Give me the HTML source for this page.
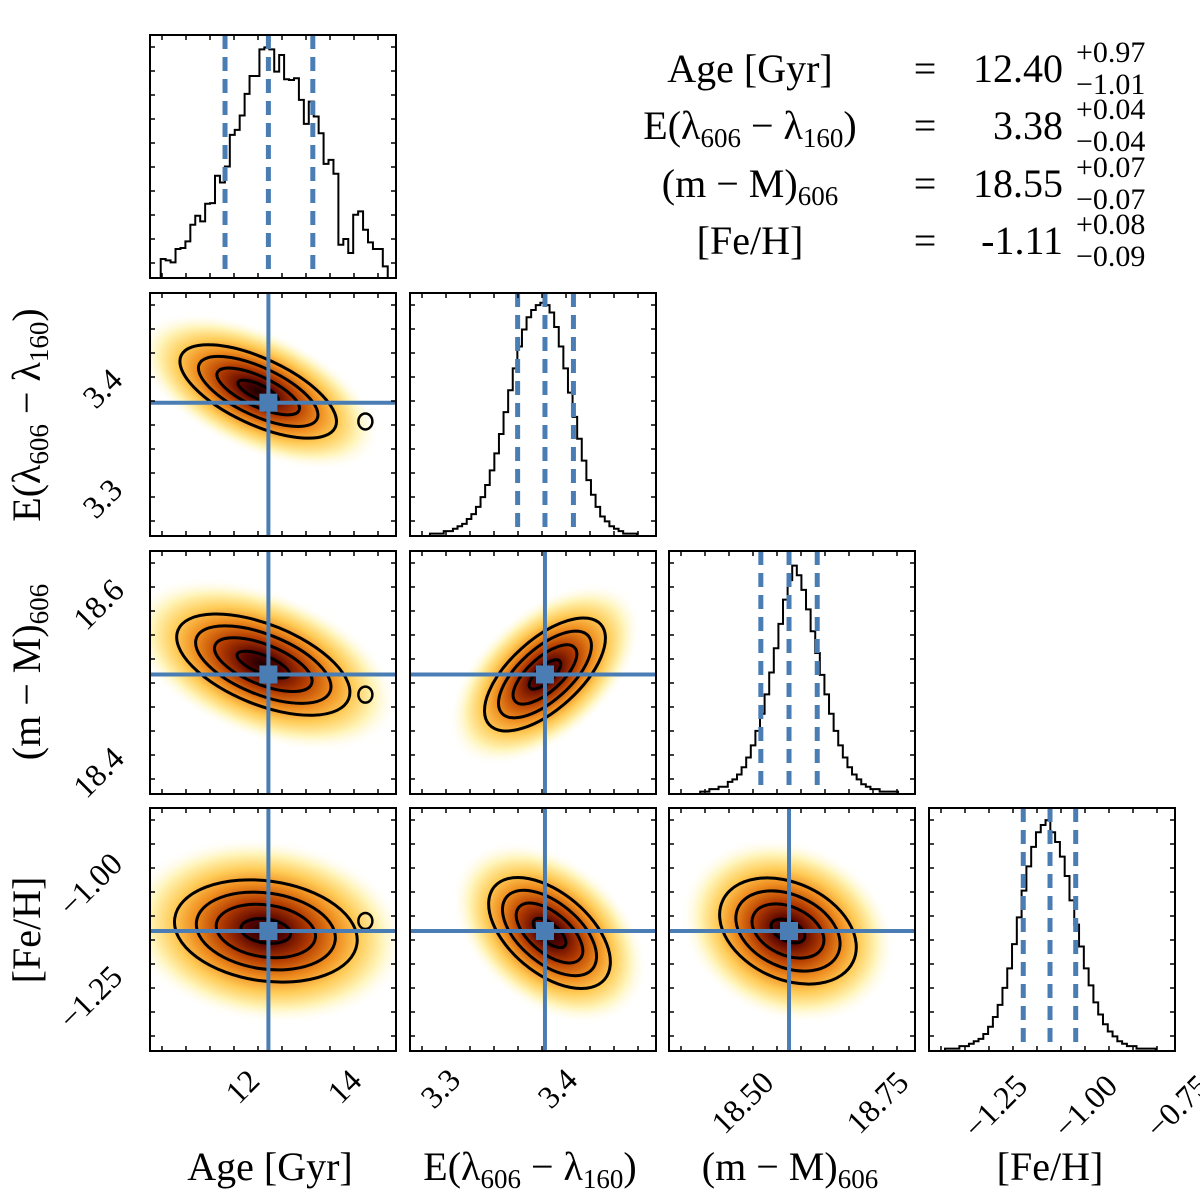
<!DOCTYPE html>
<html><head><meta charset="utf-8"><style>
html,body{margin:0;padding:0;background:#fff;}
svg{display:block;font-family:"Liberation Serif",serif;}
</style></head><body>
<svg id="chart" width="1200" height="1200" viewBox="0 0 1200 1200" xmlns="http://www.w3.org/2000/svg">
<defs>
<radialGradient id="heat" cx="50%" cy="50%" r="50%">
<stop offset="0" stop-color="#1a0000"/>
<stop offset="0.14" stop-color="#5a0500"/>
<stop offset="0.32" stop-color="#b43c00"/>
<stop offset="0.5" stop-color="#ee8c1e"/>
<stop offset="0.66" stop-color="#ffcc58"/>
<stop offset="0.82" stop-color="#fff4b8"/>
<stop offset="1" stop-color="#ffffff" stop-opacity="0"/>
</radialGradient>
</defs>
<g id="panels"></g>
<g id="summary" font-size="40" fill="#000">
<text x="750" y="82" text-anchor="middle">Age [Gyr]</text>
<text x="750" y="139" text-anchor="middle">E(λ<tspan font-size="27" dy="8">606</tspan><tspan dy="-8"> − λ</tspan><tspan font-size="27" dy="8">160</tspan><tspan dy="-8">)</tspan></text>
<text x="750" y="197" text-anchor="middle">(m − M)<tspan font-size="27" dy="8">606</tspan></text>
<text x="750" y="254" text-anchor="middle">[Fe/H]</text>
<text x="925" y="82" text-anchor="middle">=</text>
<text x="925" y="139" text-anchor="middle">=</text>
<text x="925" y="197" text-anchor="middle">=</text>
<text x="925" y="254" text-anchor="middle">=</text>
<text x="1063" y="82" text-anchor="end">12.40</text>
<text x="1063" y="139" text-anchor="end">3.38</text>
<text x="1063" y="197" text-anchor="end">18.55</text>
<text x="1063" y="254" text-anchor="end">-1.11</text>
<g font-size="30">
<text x="1076" y="62">+0.97</text>
<text x="1076" y="94">−1.01</text>
<text x="1076" y="119">+0.04</text>
<text x="1076" y="151">−0.04</text>
<text x="1076" y="177">+0.07</text>
<text x="1076" y="209">−0.07</text>
<text x="1076" y="234">+0.08</text>
<text x="1076" y="266">−0.09</text>
</g>
</g>
<g font-size="40">
<text x="270" y="1180" text-anchor="middle">Age [Gyr]</text>
<text x="530" y="1180" text-anchor="middle">E(λ<tspan font-size="27" dy="8">606</tspan><tspan dy="-8"> − λ</tspan><tspan font-size="27" dy="8">160</tspan><tspan dy="-8">)</tspan></text>
<text x="790" y="1180" text-anchor="middle">(m − M)<tspan font-size="27" dy="8">606</tspan></text>
<text x="1050" y="1180" text-anchor="middle">[Fe/H]</text>
<text transform="translate(40,415) rotate(-90)" text-anchor="middle">E(λ<tspan font-size="27" dy="8">606</tspan><tspan dy="-8"> − λ</tspan><tspan font-size="27" dy="8">160</tspan><tspan dy="-8">)</tspan></text>
<text transform="translate(40,672) rotate(-90)" text-anchor="middle">(m − M)<tspan font-size="27" dy="8">606</tspan></text>
<text transform="translate(40,930) rotate(-90)" text-anchor="middle">[Fe/H]</text>
</g>
<g font-size="32">
<text transform="translate(250,1094) rotate(-45)" text-anchor="middle">12</text>
<text transform="translate(352,1094) rotate(-45)" text-anchor="middle">14</text>
<text transform="translate(448,1096) rotate(-45)" text-anchor="middle">3.3</text>
<text transform="translate(565,1096) rotate(-45)" text-anchor="middle">3.4</text>
<text transform="translate(750,1110) rotate(-45)" text-anchor="middle">18.50</text>
<text transform="translate(885,1110) rotate(-45)" text-anchor="middle">18.75</text>
<text transform="translate(1003,1114) rotate(-45)" text-anchor="middle">−1.25</text>
<text transform="translate(1093,1114) rotate(-45)" text-anchor="middle">−1.00</text>
<text transform="translate(1185,1114) rotate(-45)" text-anchor="middle">−0.75</text>
<text transform="translate(110,396) rotate(-45)" text-anchor="middle">3.4</text>
<text transform="translate(110,506) rotate(-45)" text-anchor="middle">3.3</text>
<text transform="translate(106,612) rotate(-45)" text-anchor="middle">18.6</text>
<text transform="translate(106,780) rotate(-45)" text-anchor="middle">18.4</text>
<text transform="translate(98,892) rotate(-45)" text-anchor="middle">−1.00</text>
<text transform="translate(98,1005) rotate(-45)" text-anchor="middle">−1.25</text>
</g>
</svg>
<script>
// ---- data ----
const ageHist = [57,53,47,87,90,110,160,187,170,223,225,307,287,335,430,445,488,553,607,607,687,693,687,620,670,597,595,600,535,463,530,485,435,343,355,313,100,117,75,190,200,145,107,87,87,35];
const eHist = [1,1,1,2,2,3,4,5,7,9,12,16,21,27,34,42,51,60,69,78,85,90,93,95,96,95,92,86,78,69,59,49,40,31,23,17,12,8,6,4,3,2,1,1,1,0];
const mmHist = [1,1,2,2,3,3,5,6,8,11,15,20,26,33,41,50,60,70,80,88,94,90,84,76,67,58,49,41,33,26,20,15,11,8,6,4,3,2,2,1,1,1,1,0,0];
const fehHist = [1,1,1,2,2,3,4,5,7,10,14,19,26,34,44,55,66,76,84,90,93,95,90,86,80,72,62,52,43,34,27,20,15,11,8,6,4,3,2,2,1,1,1,1,0,0,0];
const histMax = [730, 100, 100, 100];
const histStart = [10.29, 3.279, 18.383, -1.4083];
const histStep = [0.0967, 0.00404, 0.00865, 0.0136];
const medians = [12.40, 3.38, 18.55, -1.11];
const quantLo = [11.55, 3.356, 18.497, -1.186];
const quantHi = [13.27, 3.405, 18.603, -1.037];
const pairRows = [1, 2, 2, 3, 3, 3];
const pairCols = [0, 0, 1, 0, 1, 2];
const pairCx = [12.2, 12.3, 3.380, 12.35, 3.384, 18.548];
const pairCy = [3.39, 18.562, 18.55, -1.11, -1.115, -1.11];
const pairAngle = [25, 22, -42, 8, 40, 25];
const contourRx = [[85,65,45,22],[92,72,52,28],[75,58,40,20],[92,70,50,25],[72,56,40,20],[72,55,38,18]];
const contourRy = [[33,24,15,7],[40,30,20,9],[35,26,17,8],[50,38,26,12],[40,30,20,9],[48,36,24,10]];

// ---- layout ----
const colX = [150, 410, 669, 929], W = 246;
const rowY = [35, 293, 551, 808], H = 243;
const colLo = [10.08, 3.2615, 18.3244, -1.4538], colHi = [14.9, 3.4775, 18.7868, -0.7549];
const rowLo = [null, 3.2615, 18.4045, -1.41], rowHi = [null, 3.4775, 18.7003, -0.8025];
const blue = '#4a7db3';
const NS = 'http://www.w3.org/2000/svg';
const root = document.getElementById('panels');
function xs(c, v) { return colX[c] + (v - colLo[c]) / (colHi[c] - colLo[c]) * W; }
function ys(r, v) { return rowY[r] + H - (v - rowLo[r]) / (rowHi[r] - rowLo[r]) * H; }
function mk(tag, attrs, parent) {
  const e = document.createElementNS(NS, tag);
  for (const k in attrs) e.setAttribute(k, attrs[k]);
  (parent || root).appendChild(e);
  return e;
}
const hists = [ageHist, eHist, mmHist, fehHist];

function frame(r, c, g) {
  const x0 = colX[c], y0 = rowY[r];
  let d = '';
  for (let x = x0 + 12; x < x0 + W - 4; x += 24) { d += `M${x},${y0}v5M${x},${y0+H}v-5`; }
  for (let y = y0 + 12; y < y0 + H - 4; y += 24) { d += `M${x0},${y}h5M${x0+W},${y}h-5`; }
  const t = mk('path', { d: d, stroke: '#000', 'stroke-width': 1.5, fill: 'none' }, g);
  
  
  const b = mk('rect', { x: x0, y: y0, width: W, height: H, fill: 'none', stroke: '#000', 'stroke-width': 2 }, g);
  
  
}

for (let i = 0; i < 4; i++) {
  const g = mk('g', {});
  
  
  const h = hists[i];
  const base = rowY[i] + H;
  let d = '';
  for (let k = 0; k < h.length; k++) {
    const xa = xs(i, histStart[i] + k * histStep[i]);
    const xb = xs(i, histStart[i] + (k + 1) * histStep[i]);
    const y = base - h[k] / histMax[i] * H;
    d += (k === 0 ? `M${xa},${base}L${xa},${y}` : `L${xa},${y}`) + `L${xb},${y}`;
  }
  d += `L${xs(i, histStart[i] + h.length * histStep[i])},${base}`;
  const p = mk('path', { d: d, fill: 'none', stroke: '#000', 'stroke-width': 2 }, g);
  
  
  [quantLo[i], medians[i], quantHi[i]].forEach(v => {
    const x = xs(i, v);
    const l = mk('line', { x1: x, x2: x, y1: rowY[i], y2: rowY[i] + H, stroke: blue, 'stroke-width': 5, 'stroke-dasharray': '14,8' }, g);
    
    
  });
  frame(i, i, g);
}

for (let j = 0; j < pairRows.length; j++) {
  const r = pairRows[j], c = pairCols[j];
  const g = mk('g', {});
  
  
  const cid = 'clip' + j;
  const cp = mk('clipPath', { id: cid }, g);
  mk('rect', { x: colX[c], y: rowY[r], width: W, height: H }, cp);
  const inner = mk('g', { 'clip-path': `url(#${cid})` }, g);
  const cx = xs(c, pairCx[j]), cy = ys(r, pairCy[j]);
  const heat = mk('ellipse', { cx: cx, cy: cy, rx: contourRx[j][0] * 1.55, ry: contourRy[j][0] * 1.85, fill: 'url(#heat)', transform: `rotate(${pairAngle[j]} ${cx} ${cy})` }, inner);
  
  
  contourRx[j].forEach((rx, k) => {
    const e = mk('ellipse', { cx: cx, cy: cy, rx: rx, ry: contourRy[j][k], fill: 'none', stroke: '#000', 'stroke-width': 3, transform: `rotate(${pairAngle[j]} ${cx} ${cy})` }, inner);
    
    
  });
  if (c === 0) {
    const bx = xs(0, 14.3), by = cy + (r === 3 ? -10 : 30);
    const e = mk('ellipse', { cx: bx, cy: by, rx: 7, ry: 8, fill: 'none', stroke: '#000', 'stroke-width': 2.5 }, inner);
    
    
  }
  const mx = xs(c, medians[c]), my = ys(r, medians[r]);
  const v = mk('line', { x1: mx, x2: mx, y1: rowY[r], y2: rowY[r] + H, stroke: blue, 'stroke-width': 4 }, inner);
  
  
  const hl = mk('line', { x1: colX[c], x2: colX[c] + W, y1: my, y2: my, stroke: blue, 'stroke-width': 4 }, inner);
  
  
  const sq = mk('rect', { x: mx - 9, y: my - 9, width: 18, height: 18, fill: blue }, inner);
  
  
  frame(r, c, g);
}
</script>
</body></html>
